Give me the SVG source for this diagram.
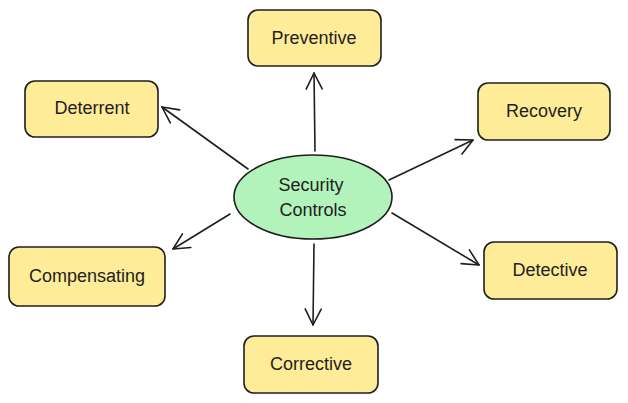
<svg xmlns="http://www.w3.org/2000/svg" width="628" height="403" viewBox="0 0 628 403">
<style>
.box{fill:#ffec99;stroke:#1e1e1e;stroke-width:1.6}
.ell{fill:#b2f2bb;stroke:#1e1e1e;stroke-width:1.6}
.t{font-family:"Liberation Sans",Arial,sans-serif;font-size:18px;fill:#1e1e1e;text-anchor:middle;dominant-baseline:central}
.c{stroke:#1e1e1e;stroke-width:1.6;fill:none;stroke-linecap:round;marker-end:url(#ah)}
</style>
<defs>
<marker id="ah" viewBox="0 0 20 20" refX="18" refY="10" markerWidth="20" markerHeight="20" markerUnits="userSpaceOnUse" orient="auto">
<path d="M2,2 L18,10 L2,18" fill="none" stroke="#1e1e1e" stroke-width="1.6" stroke-linecap="round" stroke-linejoin="round"/>
</marker>
</defs>
<g id="connectors">
<line class="c" x1="315" y1="151" x2="314" y2="73"/>
<line class="c" x1="248" y1="169" x2="162" y2="107"/>
<line class="c" x1="389" y1="180" x2="473" y2="140"/>
<line class="c" x1="230" y1="214" x2="173" y2="249"/>
<line class="c" x1="392" y1="213" x2="479" y2="265"/>
<line class="c" x1="314" y1="244" x2="313" y2="325"/>
</g>
<g id="center">
<ellipse class="ell" cx="313" cy="197" rx="79" ry="42"/>
<text class="t" x="311" y="185">Security</text>
<text class="t" x="313" y="210">Controls</text>
</g>
<g id="preventive">
<rect class="box" x="248" y="10" width="133" height="56" rx="10"/>
<text class="t" x="314" y="38">Preventive</text>
</g>
<g id="deterrent">
<rect class="box" x="25" y="81" width="133" height="56" rx="10"/>
<text class="t" x="92" y="108">Deterrent</text>
</g>
<g id="recovery">
<rect class="box" x="478" y="83" width="132" height="57" rx="10"/>
<text class="t" x="544" y="111">Recovery</text>
</g>
<g id="compensating">
<rect class="box" x="9" y="247" width="156" height="59" rx="10"/>
<text class="t" x="87" y="276">Compensating</text>
</g>
<g id="detective">
<rect class="box" x="484" y="242" width="133" height="57" rx="10"/>
<text class="t" x="550" y="270">Detective</text>
</g>
<g id="corrective">
<rect class="box" x="244" y="336" width="134" height="57" rx="10"/>
<text class="t" x="311" y="364">Corrective</text>
</g>
</svg>
